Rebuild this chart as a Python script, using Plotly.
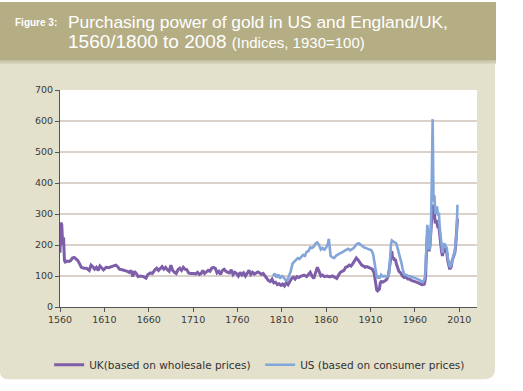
import plotly.graph_objects as go

# ---- data ----
uk_years = [1560,1561,1562,1563,1564,1565,1566,1568,1570,1572,1574,1576,1578,1580,1582,1584,1587,1590,1593,1595,1597,1599,
            1601,1603,1605,1607,1609,1612,1615,1618,1621,1623,1625,1627,1630,1633,1636,1638,1640,1642,1644,1646,1648,1651,1654,
            1657,1659,1662,1664,1667,1669,1671,1673,1675,1677,1679,1681,1683,1685,1687,1689,1691,1693,1695,1697,1699,1701,1703,
            1705,1707,1710,1713,1715,1717,1719,1721,1723,1725,1727,1729,1731,1733,1735,1737,1739,1741,1743,1745,1747,1749,1751,
            1753,1755,1757,1759,1761,1763,1765,1767,1769,1771,1773,1775,1777,1779,1781,1783,1785,1787,1789,1791,1793,1795,1797,
            1799,1801,1803,1805,1807,1809,1811,1813,1815,1817,1819,1821,1823,1825,1827,1829,1832,1835,1838,1840,1842,1844,1846,
            1848,1850,1852,1854,1856,1858,1861,1864,1867,1870,1872,1874,1876,1878,1880,1882,1884,1886,1888,1890,1892,1894,1896,
            1898,1900,1902,1904,1906,1908,1910,1912,1914,1915,1916,1917,1918,1919,1920,1921,1922,1924,1926,1928,1930,1932,1933,
            1934,1935,1936,1937,1938,1939,1940,1941,1942,1944,1946,1948,1950,1952,1954,1956,1958,1960,1962,1964,1966,1968,1969,
            1970,1971,1972,1973,1974,1975,1976,1977,1978,1979,1980,1981,1982,1983,1984,1985,1986,1987,1988,1989,1990,1991,1992,
            1993,1994,1995,1996,1997,1998,1999,2000,2001,2002,2003,2004,2005,2006,2007,2008]
uk_values = [175,272,265,200,225,150,145,148,147,150,158,160,155,150,140,128,125,125,118,135,130,122,
             128,118,132,125,120,128,127,130,132,135,130,122,120,118,115,112,118,98,115,108,98,100,98,
             93,105,110,108,120,125,118,125,130,122,128,120,115,135,118,112,108,120,125,118,128,122,120,
             110,108,108,107,112,105,108,118,108,112,118,115,125,128,125,110,115,105,118,122,115,112,110,
             120,105,112,108,100,112,103,110,100,108,118,105,112,106,110,113,110,105,108,100,96,85,82,
             90,78,80,72,75,70,74,68,78,72,82,92,96,90,98,95,100,103,98,105,112,100,92,
             110,128,115,100,103,98,100,97,100,95,92,103,112,115,118,128,130,135,132,140,148,158,152,
             142,135,132,128,130,128,125,122,110,85,65,55,52,55,58,78,82,80,83,88,100,150,175,
             180,155,160,150,155,140,130,122,115,110,100,95,97,90,90,86,85,82,80,78,76,72,75,
             70,78,95,175,230,195,180,200,240,280,330,290,300,270,280,270,255,260,225,200,180,165,180,
             190,185,180,175,150,130,125,125,130,150,160,165,175,200,230,285]

us_years = [1800,1802,1804,1806,1808,1810,1812,1814,1816,1818,1820,1822,1824,1826,1828,1830,1832,1834,1836,1838,1840,
            1842,1844,1846,1848,1850,1852,1854,1856,1858,1860,1862,1863,1864,1865,1867,1869,1871,1873,1875,1877,1879,1881,
            1883,1885,1887,1889,1891,1893,1895,1897,1899,1901,1903,1905,1907,1909,1911,1913,1914,1915,1916,1917,1918,1919,
            1920,1921,1922,1924,1926,1928,1930,1931,1932,1933,1934,1936,1938,1939,1940,1941,1942,1943,1944,1945,1946,1947,
            1948,1950,1952,1954,1956,1958,1960,1962,1964,1966,1968,1969,1970,1971,1972,1973,1974,1975,1976,1977,1978,1979,
            1980,1981,1982,1983,1984,1985,1986,1987,1988,1989,1990,1991,1992,1993,1994,1995,1996,1997,1998,1999,2000,2001,
            2002,2003,2004,2005,2006,2007,2008]
us_values = [100,108,95,105,92,100,96,88,85,100,115,140,145,150,158,155,160,168,165,178,180,
             192,190,195,205,208,200,185,190,185,192,205,220,185,165,160,158,165,170,172,175,180,182,
             185,188,183,186,190,198,204,205,200,195,192,190,188,185,183,170,150,125,108,98,95,97,
             92,100,104,98,100,97,100,110,160,200,215,210,208,205,195,185,168,160,150,140,125,110,
             105,103,100,100,98,97,94,92,89,86,82,80,85,92,120,200,265,235,185,190,245,400,
             606,340,360,300,310,325,295,305,255,230,195,175,195,205,200,195,190,160,140,132,130,135,
             150,165,170,175,210,240,330]

x_ticks = [1560, 1610, 1660, 1710, 1760, 1810, 1860, 1910, 1960, 2010]
y_ticks = [0, 100, 200, 300, 400, 500, 600, 700]

UK_COLOR = "#7e5ea9"
US_COLOR = "#82a5da"

fig = go.Figure()
fig.add_trace(go.Scatter(x=uk_years, y=uk_values, mode="lines", name="UK(based on wholesale prices)",
                         line=dict(color=UK_COLOR, width=3)))
fig.add_trace(go.Scatter(x=us_years, y=us_values, mode="lines", name="US (based on consumer prices)",
                         line=dict(color=US_COLOR, width=2.6)))

W, H = 523, 391
L, R, T, B = 60, 477, 90, 312

def px2paper_x(px):
    return (px - L) / (R - L)

def px2paper_y(py):
    return (B - py) / (B - T)

def P(x, y):
    return f"{px2paper_x(x):.5f},{px2paper_y(y):.5f}"

panel_path = (f"M {P(0,61)} L {P(495,61)} L {P(495,375)} Q {P(495,386)} {P(484,386)} "
              f"L {P(8,386)} Q {P(0,386)} {P(0,378)} Z")
title_path = f"M {P(0,0)} L {P(496,0)} L {P(496,60)} L {P(0,60)} Z"
shadow_path = f"M {P(0,60)} L {P(496,60)} L {P(496,63)} L {P(0,63)} Z"
shapes = [
    dict(type="path", xref="paper", yref="paper", layer="below", path=panel_path,
         fillcolor="#e3e0cb", line=dict(width=0)),
    dict(type="path", xref="paper", yref="paper", layer="below", path=shadow_path,
         fillcolor="#cfcbb2", line=dict(width=0)),
    dict(type="path", xref="paper", yref="paper", layer="below", path=title_path,
         fillcolor="#b5ae85", line=dict(width=0)),
    dict(type="rect", xref="paper", yref="paper", layer="below",
         x0=0, x1=1, y0=0, y1=1, fillcolor="white", line=dict(width=0)),
]

annotations = [
    dict(text="<b>Figure 3:</b>", x=px2paper_x(13), y=px2paper_y(21), xref="paper", yref="paper",
         xanchor="left", yanchor="middle", showarrow=False,
         font=dict(family="Liberation Sans Narrow, Liberation Sans, Arial", size=10, color="white")),
    dict(text="Purchasing power of gold in US and England/UK,", x=px2paper_x(66), y=px2paper_y(20),
         xref="paper", yref="paper", xanchor="left", yanchor="middle", showarrow=False,
         font=dict(family="Liberation Sans, Arial", size=17.4, color="white")),
    dict(text="1560/1800 to 2008 <span style='font-size:15px'>(Indices, 1930=100)</span>",
         x=px2paper_x(66), y=px2paper_y(40),
         xref="paper", yref="paper", xanchor="left", yanchor="middle", showarrow=False,
         font=dict(family="Liberation Sans, Arial", size=19, color="white")),
]

TICKFONT = dict(family="DejaVu Sans, Verdana", size=9.5, color="#3a3a3a")

fig.update_layout(
    width=W, height=H,
    margin=dict(l=L, r=W - R, t=T, b=H - B, pad=0),
    paper_bgcolor="white",
    plot_bgcolor="white",
    shapes=shapes,
    annotations=annotations,
    font=dict(family="DejaVu Sans, Verdana", size=10, color="#333333"),
    showlegend=True,
    legend=dict(orientation="h", x=-0.026, xanchor="left", y=-0.266, yanchor="middle",
                bgcolor="rgba(0,0,0,0)",
                font=dict(family="DejaVu Sans, Verdana", size=10.5, color="#333333"),
                itemwidth=30, entrywidth=166, traceorder="normal"),
    xaxis=dict(range=[1560, 2030], tickvals=x_ticks, ticktext=[str(t) for t in x_ticks],
               showgrid=False, zeroline=False, showline=True, linecolor="#555555", linewidth=1,
               ticks="outside", ticklen=4, tickcolor="#555555", tickfont=TICKFONT),
    yaxis=dict(range=[0, 700], tickvals=y_ticks, showgrid=True, gridcolor="#d9d1ca", gridwidth=1.5,
               zeroline=False, showline=True, linecolor="#555555", linewidth=1,
               ticks="outside", ticklen=4, tickcolor="#555555", tickfont=TICKFONT),
)

fig.write_html("out.html", config={"displayModeBar": False},
               post_script="document.body.style.margin='0';")
